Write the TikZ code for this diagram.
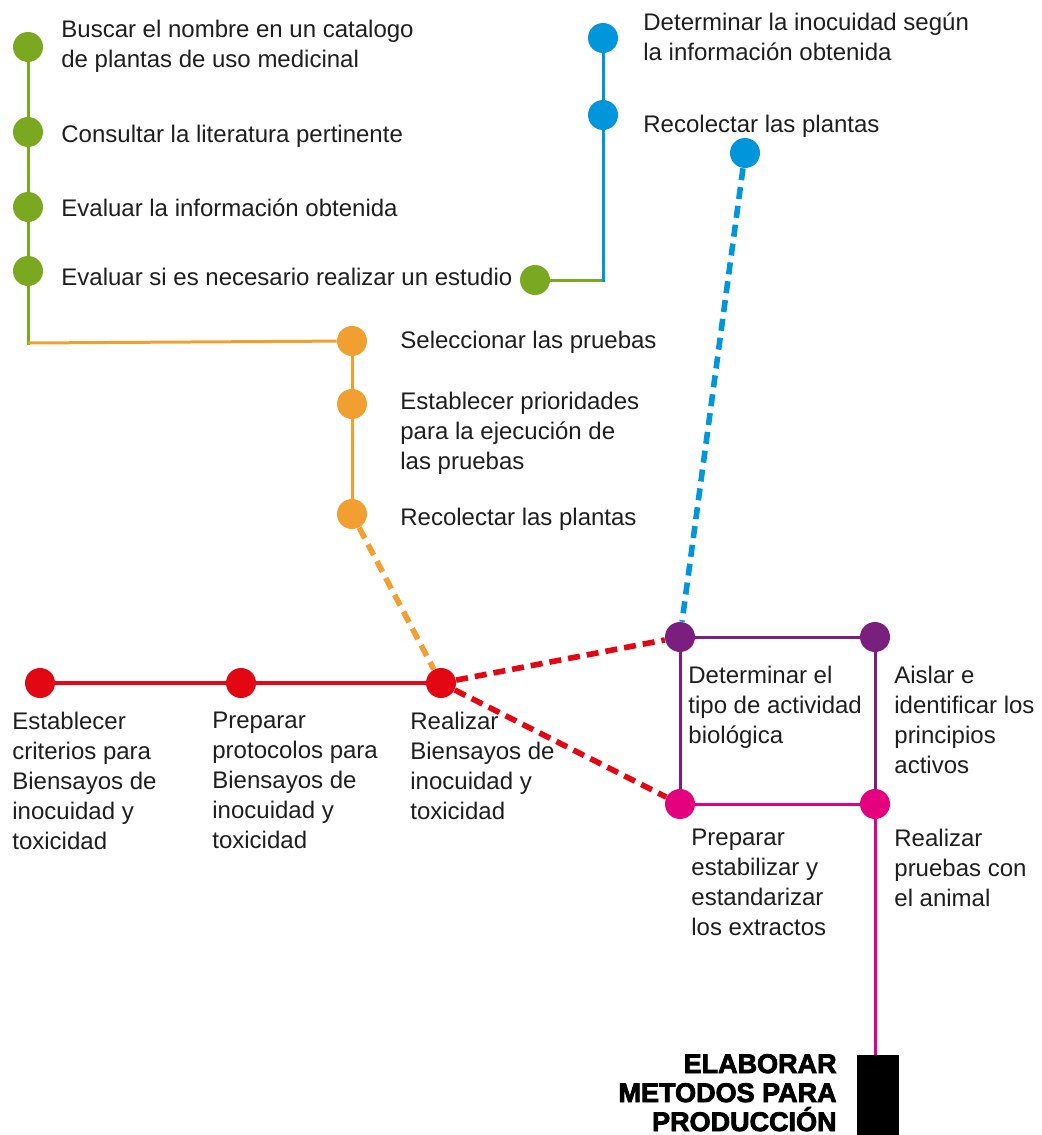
\documentclass[tikz,border=0pt]{standalone}
\usepackage{fontspec}
\setmainfont{Liberation Sans}
\newfontfamily\heavyfont[FakeBold=3]{Liberation Sans Bold}
\usepackage{tikz}
\usetikzlibrary{positioning}
\definecolor{plantGreen}{RGB}{122,168,32}
\definecolor{plantBlue}{RGB}{0,150,219}
\definecolor{plantOrange}{RGB}{242,159,50}
\definecolor{plantRed}{RGB}{227,6,19}
\definecolor{plantPurple}{RGB}{123,31,126}
\definecolor{plantPink}{RGB}{229,0,125}
\definecolor{labelGray}{RGB}{30,30,30}

\begin{document}
\begin{tikzpicture}[x=0.5pt,y=-0.5pt,
    station/.style={circle, fill=#1, inner sep=0pt, minimum size=15pt},
    track/.style={draw=#1, line width=1.5pt},
    dashtrack/.style={draw=#1, line width=2.8pt, dash pattern=on 6pt off 3.5pt},
    lbl/.style={anchor=north west, inner sep=0pt, align=left, text=labelGray,
        font=\fontsize{12}{15}\selectfont, execute at begin node=\strut}]
    \useasboundingbox (0,0) rectangle (1041,1135);

    % green branch
    \node[station=plantGreen] (g1) at (28,47) {};
    \node[station=plantGreen] (g2) at (28,132) {};
    \node[station=plantGreen] (g3) at (28,207) {};
    \node[station=plantGreen] (g4) at (28,271) {};
    \node[station=plantGreen] (g5) at (535,280) {};
    \coordinate (gcorner) at (28,343);
    \coordinate (bcorner) at (603,280);

    % blue branch
    \node[station=plantBlue] (b1) at (603,38) {};
    \node[station=plantBlue] (b2) at (603,115) {};
    \node[station=plantBlue] (b3) at (745,153) {};

    % orange branch
    \node[station=plantOrange] (o1) at (352,341) {};
    \node[station=plantOrange] (o2) at (352,404) {};
    \node[station=plantOrange] (o3) at (352,514) {};

    % red line
    \node[station=plantRed] (r1) at (40,683) {};
    \node[station=plantRed] (r2) at (241,683) {};
    \node[station=plantRed] (r3) at (441,683) {};

    % square
    \node[station=plantPurple] (p1) at (680,637) {};
    \node[station=plantPurple] (p2) at (875,637) {};
    \node[station=plantPink] (k1) at (680,804) {};
    \node[station=plantPink] (k2) at (875,804) {};

    \node[fill=black, inner sep=0pt, minimum width=21pt, minimum height=42pt,
        anchor=north west] (final) at (857,1055) {};

    % connectors
    \draw[track=plantGreen] (g1) -- (g2);
    \draw[track=plantGreen] (g2) -- (g3);
    \draw[track=plantGreen] (g3) -- (g4);
    \draw[track=plantGreen, line cap=rect] (g4) -- (gcorner);
    \draw[track=plantOrange] (gcorner) -- (o1);
    \draw[track=plantGreen] (g5) -- (bcorner);
    \draw[track=plantBlue, line cap=rect] (bcorner) -- (b2);
    \draw[track=plantBlue] (b2) -- (b1);
    \draw[track=plantOrange] (o1) -- (o2);
    \draw[track=plantOrange] (o2) -- (o3);
    \draw[track=plantRed, line width=2pt] (r1) -- (r2);
    \draw[track=plantRed, line width=2pt] (r2) -- (r3);
    \draw[dashtrack=plantOrange] (o3) -- (r3);
    \draw[dashtrack=plantBlue] (b3) -- (p1);
    \draw[dashtrack=plantRed] (r3) -- (p1);
    \draw[dashtrack=plantRed] (r3) -- (k1);
    \draw[track=plantPurple] (p1) -- (p2);
    \draw[track=plantPurple] (p1) -- (k1);
    \draw[track=plantPurple] (p2) -- (k2);
    \draw[track=plantPink] (k1) -- (k2);
    \draw[track=plantPink] (k2) -- (k2 |- final.north);

    % labels (top of first line)
    \node[lbl] (tg1) at (61,20) {Buscar el nombre en un catalogo\\de plantas de uso medicinal};
    \node[lbl] (tg2) at (61,121) {Consultar la literatura pertinente};
    \node[lbl] (tg3) at (61,195) {Evaluar la información obtenida};
    \node[lbl] (tg4) at (61,264) {Evaluar si es necesario realizar un estudio};
    \node[lbl] (tb1) at (643,12) {Determinar la inocuidad según\\la información obtenida};
    \node[lbl] (tb2) at (643,111) {Recolectar las plantas};
    \node[lbl] (to1) at (400,327) {Seleccionar las pruebas};
    \node[lbl] (to2) at (400,392) {Establecer prioridades\\para la ejecución de\\las pruebas};
    \node[lbl] (to3) at (400,504) {Recolectar las plantas};
    \node[lbl] (tr1) at (12,712) {Establecer\\criterios para\\Biensayos de\\inocuidad y\\toxicidad};
    \node[lbl] (tr2) at (212,712) {Preparar\\protocolos para\\Biensayos de\\inocuidad y\\toxicidad};
    \node[lbl] (tr3) at (410,712) {Realizar\\Biensayos de\\inocuidad y\\toxicidad};
    \node[lbl] (tp1) at (688,666) {Determinar el\\tipo de actividad\\biológica};
    \node[lbl] (tp2) at (894,666) {Aislar e\\identificar los\\principios\\activos};
    \node[lbl] (tk1) at (691,829) {Preparar\\estabilizar y\\estandarizar\\los extractos};
    \node[lbl] (tk2) at (894,829) {Realizar\\pruebas con\\el animal};
    \node[anchor=base east, inner sep=0pt, align=right,
        font=\heavyfont\fontsize{13.5}{14.5}\selectfont] (tfinal) at (837,1131)
        {ELABORAR\\METODOS PARA\\PRODUCCIÓN};
\end{tikzpicture}
\end{document}
